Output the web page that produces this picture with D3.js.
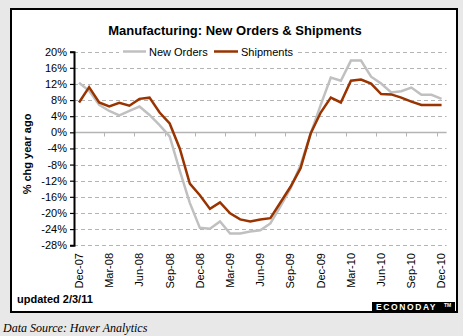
<!DOCTYPE html>
<html><head><meta charset="utf-8">
<script src="https://cdn.jsdelivr.net/npm/d3@7"></script>
<style>
html,body{margin:0;padding:0;background:#e8e8e8;}
svg{display:block;}
</style></head>
<body>
<svg id="c" width="463" height="336"></svg>
<script>
const months = ["Dec-07","Jan-08","Feb-08","Mar-08","Apr-08","May-08","Jun-08","Jul-08","Aug-08","Sep-08","Oct-08","Nov-08",
"Dec-08","Jan-09","Feb-09","Mar-09","Apr-09","May-09","Jun-09","Jul-09","Aug-09","Sep-09","Oct-09","Nov-09",
"Dec-09","Jan-10","Feb-10","Mar-10","Apr-10","May-10","Jun-10","Jul-10","Aug-10","Sep-10","Oct-10","Nov-10","Dec-10"];
const newOrders = [12.3,10.3,6.8,5.3,4.2,5.3,6.4,4.3,1.8,-1.0,-9.5,-17.5,
-23.7,-23.9,-22.1,-25.1,-25.1,-24.6,-24.3,-22.6,-18.4,-13.9,-8.1,-0.3,
6.8,13.6,12.8,17.8,17.8,13.8,12.1,9.9,10.2,11.1,9.3,9.3,8.3];
const shipments = [7.4,11.2,7.4,6.4,7.3,6.6,8.3,8.6,4.9,2.2,-4.0,-12.7,
-15.6,-19.0,-17.4,-20.1,-21.6,-22.1,-21.6,-21.3,-17.4,-13.5,-8.9,-0.3,
4.9,8.6,7.4,12.8,13.1,12.1,9.5,9.4,8.6,7.6,6.8,6.8,6.8];
const xLabels = ["Dec-07","Mar-08","Jun-08","Sep-08","Dec-08","Mar-09","Jun-09","Sep-09","Dec-09","Mar-10","Jun-10","Sep-10","Dec-10"];
const yTicks = [20,16,12,8,4,0,-4,-8,-12,-16,-20,-24,-28];
const seriesNames = ["New Orders","Shipments"];
const colors = ["#c0c0c0","#993300"];

const font = "'Liberation Sans', Arial, sans-serif";
const svg = d3.select("#c");

// chart box
svg.append("rect").attr("x",11).attr("y",9).attr("width",446).attr("height",303)
  .attr("fill","#fff").attr("stroke","#000").attr("stroke-width",2);

const L = 74, R = 446.6, T = 51.7, B = 245.2;
const x = d3.scaleBand().domain(months).range([L,R]).padding(0);
const y = d3.scaleLinear().domain([-28,20]).range([B,T]);
const cx = m => x(m) + x.bandwidth()/2;

// gridlines
svg.append("g").selectAll("line").data(yTicks.filter(v=>v!==0)).join("line")
  .attr("x1",L).attr("x2",R).attr("y1",d=>Math.round(y(d))+0.5).attr("y2",d=>Math.round(y(d))+0.5)
  .attr("stroke","#b4b4b4").attr("stroke-width",1).attr("stroke-dasharray","4,3");

// zero axis line with ticks
const y0 = Math.round(y(0))+0.5;
svg.append("line").attr("x1",L).attr("x2",R).attr("y1",y0).attr("y2",y0)
  .attr("stroke","#b4b4b4").attr("stroke-width",1.5);
const tickMonths = months.filter((m,i)=>i%3===0);
svg.append("g").selectAll("line").data(tickMonths).join("line")
  .attr("x1",d=>Math.round(x(d))+0.5).attr("x2",d=>Math.round(x(d))+0.5)
  .attr("y1",y0).attr("y2",y0+4).attr("stroke","#b4b4b4").attr("stroke-width",1);

// y axis
const yAxis = d3.axisLeft(y).tickValues(yTicks).tickSize(4).tickPadding(3).tickFormat(d=>d+"%");
const gy = svg.append("g").attr("transform",`translate(${L},0)`).call(yAxis);
gy.select(".domain").attr("stroke","#000").attr("stroke-width",2);
gy.selectAll(".tick line").attr("stroke","#000").attr("stroke-width",1.2);
gy.selectAll("text").attr("font-family",font).attr("font-size",11).attr("fill","#000");

// x labels
svg.append("g").selectAll("text").data(xLabels).join("text")
  .attr("transform",d=>`translate(${cx(d)},253) rotate(-90)`)
  .attr("dy","0.35em").attr("text-anchor","end")
  .attr("font-family",font).attr("font-size",11).attr("fill","#000").text(d=>d);

// lines
const line = d3.line().x((d,i)=>cx(months[i])).y(d=>y(d));
[newOrders, shipments].forEach((s,k)=>{
  svg.append("path").datum(s).attr("d",line).attr("fill","none")
    .attr("stroke",colors[k]).attr("stroke-width",2.5).attr("stroke-linejoin","miter");
});

// legend
svg.append("rect").attr("x",119).attr("y",45).attr("width",176).attr("height",13).attr("fill","#fff");
const leg = [{x1:123,x2:146,tx:149},{x1:214,x2:238,tx:241}];
leg.forEach((l,k)=>{
  svg.append("line").attr("x1",l.x1).attr("x2",l.x2).attr("y1",51.5).attr("y2",51.5)
    .attr("stroke",colors[k]).attr("stroke-width",2.5);
  svg.append("text").attr("x",l.tx).attr("y",55.5).attr("font-family",font).attr("font-size",11)
    .attr("fill","#000").text(seriesNames[k]);
});

// title
svg.append("text").attr("x",235).attr("y",35).attr("text-anchor","middle")
  .attr("font-family",font).attr("font-size",13).attr("font-weight","bold").attr("fill","#000")
  .text("Manufacturing: New Orders & Shipments");

// y axis title
svg.append("text").attr("transform","translate(27.5,154) rotate(-90)").attr("dy","0.35em")
  .attr("text-anchor","middle").attr("font-family",font).attr("font-size",11).attr("font-weight","bold")
  .attr("fill","#000").text("% chg year ago");

// updated
svg.append("text").attr("x",17).attr("y",303).attr("font-family",font).attr("font-size",11)
  .attr("font-weight","bold").attr("fill","#000").text("updated 2/3/11");

// logo
svg.append("rect").attr("x",372).attr("y",302).attr("width",83).attr("height",9).attr("fill","#000");
svg.append("text").attr("x",376).attr("y",310).attr("font-family",font).attr("font-size",8.5)
  .attr("font-weight","bold").attr("fill","#fff").attr("letter-spacing",1.6).text("ECONODAY");
svg.append("text").attr("x",444).attr("y",307).attr("font-family",font).attr("font-size",5)
  .attr("font-weight","bold").attr("fill","#fff").text("TM");

// source
svg.append("text").attr("x",3).attr("y",332).attr("font-family","'Liberation Serif', 'Times New Roman', serif")
  .attr("font-size",12).attr("font-style","italic").attr("fill","#000").text("Data Source: Haver Analytics");
</script>
</body></html>
